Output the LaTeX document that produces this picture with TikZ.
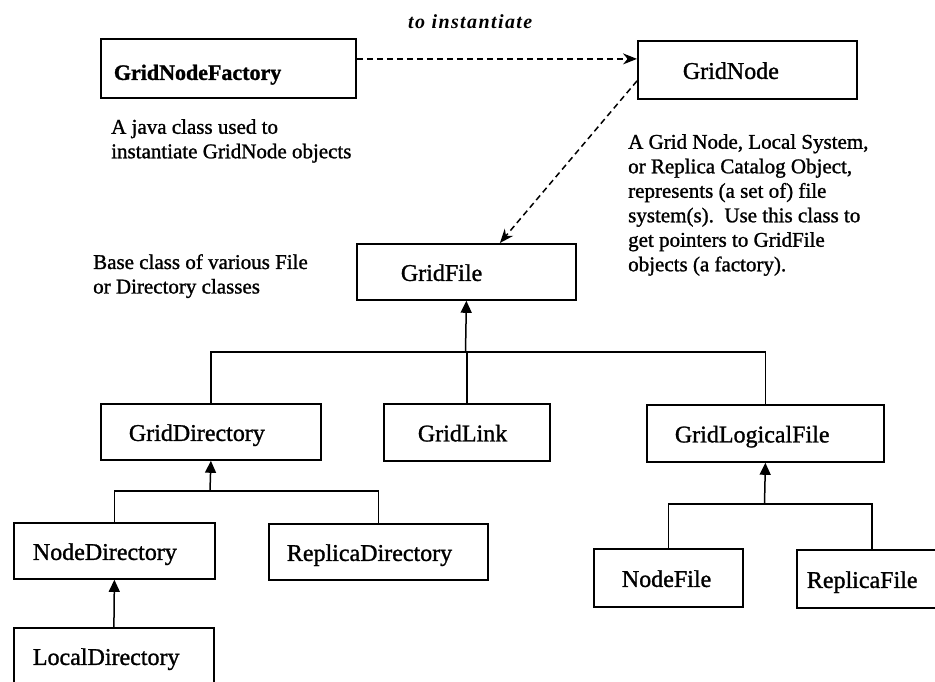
\documentclass[tikz,border=0pt]{standalone}
\usepackage{fontspec}
\setmainfont{Liberation Serif}[FakeBold=1.2]
\newfontfamily\spacedserif{Liberation Serif}[LetterSpace=7]
\usetikzlibrary{arrows.meta,calc}
\begin{document}
\begin{tikzpicture}[x=1pt,y=-1pt,
  classbox/.style n args={4}{draw, line width=1.8pt, rectangle, anchor=north west,
    minimum width=#1pt, minimum height=#2pt, inner xsep=#3pt, inner ysep=0pt,
    text width=#4pt, align=left, text height=18pt, text depth=0pt,
    font=\fontsize{24}{28}\selectfont},
  note/.style={anchor=north west, inner sep=0pt, align=left,
    font=\fontsize{21}{24.5}\selectfont},
  inherit/.style={line width=1.5pt, -{Triangle[width=11pt,length=12pt]}},
  branch/.style={line width=1.5pt},
  uses/.style={line width=1.5pt, dash pattern=on 6pt off 4pt,
    -{Stealth[width=11pt,length=14pt]}}
]
\useasboundingbox (0,0) rectangle (935,681);
\clip (0,0) rectangle (935,681);
\fill[white] (0,0) rectangle (935,681);

% factory and grid node
\node[classbox={255}{59}{13}{229}, text height=23pt,
  font=\fontsize{22}{26}\selectfont\bfseries] (factory) at (100,38) {GridNodeFactory};
\node[classbox={219}{58}{45}{129}] (gridnode) at (637,40) {GridNode};

% file hierarchy
\node[classbox={219}{56}{44}{131}] (gridfile) at (356,243) {GridFile};
\node[classbox={220}{56}{28}{164}] (griddir) at (100,403) {GridDirectory};
\node[classbox={166}{57}{34}{98}] (gridlink) at (383,403) {GridLink};
\node[classbox={237}{57}{28}{181}] (gridlogical) at (646,404) {GridLogicalFile};
\node[classbox={201}{56}{19}{163}] (nodedir) at (13,522) {NodeDirectory};
\node[classbox={219}{56}{18}{183}] (repdir) at (268,523) {ReplicaDirectory};
\node[classbox={200}{56}{19}{162}] (localdir) at (13,627) {LocalDirectory};
\node[classbox={149}{58}{28}{93}] (nodefile) at (593,548) {NodeFile};
\node[classbox={150}{58}{10}{130}] (repfile) at (796,549) {ReplicaFile};

% annotations
\node[anchor=base west, inner sep=0pt,
  font=\spacedserif\fontsize{20}{24}\selectfont\bfseries\itshape] (instlabel) at (408,28) {to instantiate};
\node[note] (factorynote) at (111,119) {A java class used to\\instantiate GridNode objects};
\node[note] (gridnodenote) at (628,134) {A Grid Node, Local System,\\or Replica Catalog Object,\\represents (a set of) file\\system(s).\ \ Use this class to\\get pointers to GridFile\\objects (a factory).};
\node[note] (filenote) at (93,254) {Base class of various File\\or Directory classes};

% dependencies
\coordinate (fa) at ([yshift=9.5pt]factory.east);
\draw[uses] (fa) -- (fa -| gridnode.west);
\draw[uses] ([yshift=-11pt]gridnode.west) -- ([xshift=33.5pt]gridfile.north);

% inheritance tree under GridFile
\coordinate (b1) at (465.5,352);
\draw[branch] (griddir.north) |- (b1) -| (gridlogical.north);
\draw[branch] (gridlink.north) -- (gridlink.north |- b1);
\draw[inherit] (b1) -- (gridfile.south);

% inheritance tree under GridDirectory
\coordinate (b2) at (210,491);
\draw[branch] (nodedir.north) |- (b2) -| (repdir.north);
\draw[inherit] (b2) -- (griddir.south);
\draw[inherit] (localdir.north) -- (nodedir.south);

% inheritance tree under GridLogicalFile
\coordinate (b3) at (764.5,504);
\draw[branch] (nodefile.north) |- (b3) -| (repfile.north);
\draw[inherit] (b3) -- (gridlogical.south);
\end{tikzpicture}
\end{document}
